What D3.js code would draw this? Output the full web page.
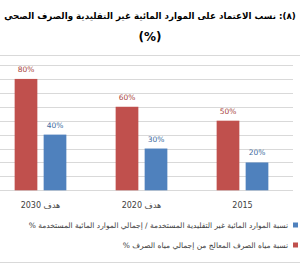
<!DOCTYPE html>
<html>
<head>
<meta charset="utf-8">
<script src="https://cdn.jsdelivr.net/npm/d3@7"></script>
<style>
  body { margin: 0; background: #fff; overflow: hidden; }
  svg { display: block; }
  text { font-family: "DejaVu Sans", sans-serif; }
</style>
</head>
<body>
<div id="chart"></div>
<script>
// categories, left to right as drawn (chart is right-to-left)
var categories = ["هدف 2030", "هدف 2020", "2015"];
var seriesNames = ["نسبة مياه الصرف المعالج من إجمالي مياه الصرف %",
                   "نسبة الموارد المائية غير التقليدية المستخدمة / إجمالي الموارد المائية المستخدمة %"];
var sewageTreated = [80, 60, 50];
var nonTraditional = [40, 30, 20];
var seriesColors = ["#c0504d", "#4f81bd"];
var labelColors = ["#a94440", "#3e6aa0"];
var yTicks = [0, 10, 20, 30, 40, 50, 60, 70, 80, 90];

var width = 300, height = 271;

var svg = d3.select("#chart").append("svg")
    .attr("width", width)
    .attr("height", height);

// title - fills the width in the source, so fit it to the picture width
var title = svg.append("text")
    .attr("x", 150).attr("y", 19)
    .attr("text-anchor", "middle")
    .attr("direction", "rtl")
    .style("font-size", "13px").style("font-weight", "bold")
    .attr("fill", "#000")
    .text("(٨): نسب الاعتماد على الموارد المائية غير التقليدية والصرف الصحي");
var tw = title.node().getComputedTextLength();
title.style("font-size", (13 * 292 / tw) + "px");

svg.append("text")
    .attr("x", 150).attr("y", 41)
    .attr("text-anchor", "middle")
    .style("font-size", "12px").style("font-weight", "bold")
    .attr("fill", "#000")
    .text("(%)");

// chart box border
svg.append("rect")
    .attr("x", -1).attr("y", 55.5)
    .attr("width", 302).attr("height", 207)
    .attr("fill", "none")
    .attr("stroke", "#d9d9d9");

var x0 = d3.scaleBand()
    .domain(categories)
    .range([-10, 293])
    .paddingInner(0.488)
    .paddingOuter(0.244);

var x1 = d3.scaleBand()
    .domain([0, 1])
    .range([0, x0.bandwidth()])
    .paddingInner(0.217);

var y = d3.scaleLinear()
    .domain([0, 90])
    .range([190.3, 65]);

// gridlines
svg.append("g").selectAll("line")
    .data(yTicks)
    .enter().append("line")
    .attr("x1", 0).attr("x2", 293)
    .attr("y1", function(d) { return Math.round(y(d)) + 0.5; })
    .attr("y2", function(d) { return Math.round(y(d)) + 0.5; })
    .attr("stroke", "#d9d9d9")
    .attr("stroke-width", 1);

var rows = categories.map(function(c, i) {
    return { cat: c, vals: [sewageTreated[i], nonTraditional[i]] };
});

var groups = svg.append("g").selectAll("g")
    .data(rows)
    .enter().append("g")
    .attr("transform", function(d) { return "translate(" + x0(d.cat) + ",0)"; });

groups.selectAll("rect")
    .data(function(d) { return d.vals; })
    .enter().append("rect")
    .attr("x", function(d, i) { return x1(i); })
    .attr("width", x1.bandwidth())
    .attr("y", function(d) { return y(d); })
    .attr("height", function(d) { return y(0) - y(d); })
    .attr("fill", function(d, i) { return seriesColors[i]; });

groups.selectAll(".val")
    .data(function(d) { return d.vals; })
    .enter().append("text")
    .attr("class", "val")
    .attr("x", function(d, i) { return x1(i) + x1.bandwidth() / 2; })
    .attr("y", function(d) { return y(d) - 7; })
    .attr("text-anchor", "middle")
    .style("font-size", "7.5px")
    .attr("fill", function(d, i) { return labelColors[i]; })
    .text(function(d) { return d + "%"; });

// category axis labels
svg.append("g").selectAll("text")
    .data(categories)
    .enter().append("text")
    .attr("x", function(d) { return x0(d) + x0.bandwidth() / 2; })
    .attr("y", 208)
    .attr("text-anchor", "middle")
    .style("font-size", "8px")
    .attr("fill", "#404040")
    .text(function(d) { return d; });

// legend, blue first
var legendOrder = [1, 0];
var legend = svg.append("g").selectAll("g")
    .data(legendOrder)
    .enter().append("g")
    .attr("transform", function(d, i) { return "translate(0," + (225 + i * 20) + ")"; });

legend.append("rect")
    .attr("x", 293).attr("y", -2.5)
    .attr("width", 5).attr("height", 5)
    .attr("fill", function(d) { return seriesColors[d]; });

legend.append("text")
    .attr("x", 288).attr("y", 3)
    .attr("text-anchor", "start")
    .attr("direction", "rtl")
    .style("font-size", "7.5px")
    .attr("fill", "#404040")
    .text(function(d) { return seriesNames[d]; });
</script>
</body>
</html>
